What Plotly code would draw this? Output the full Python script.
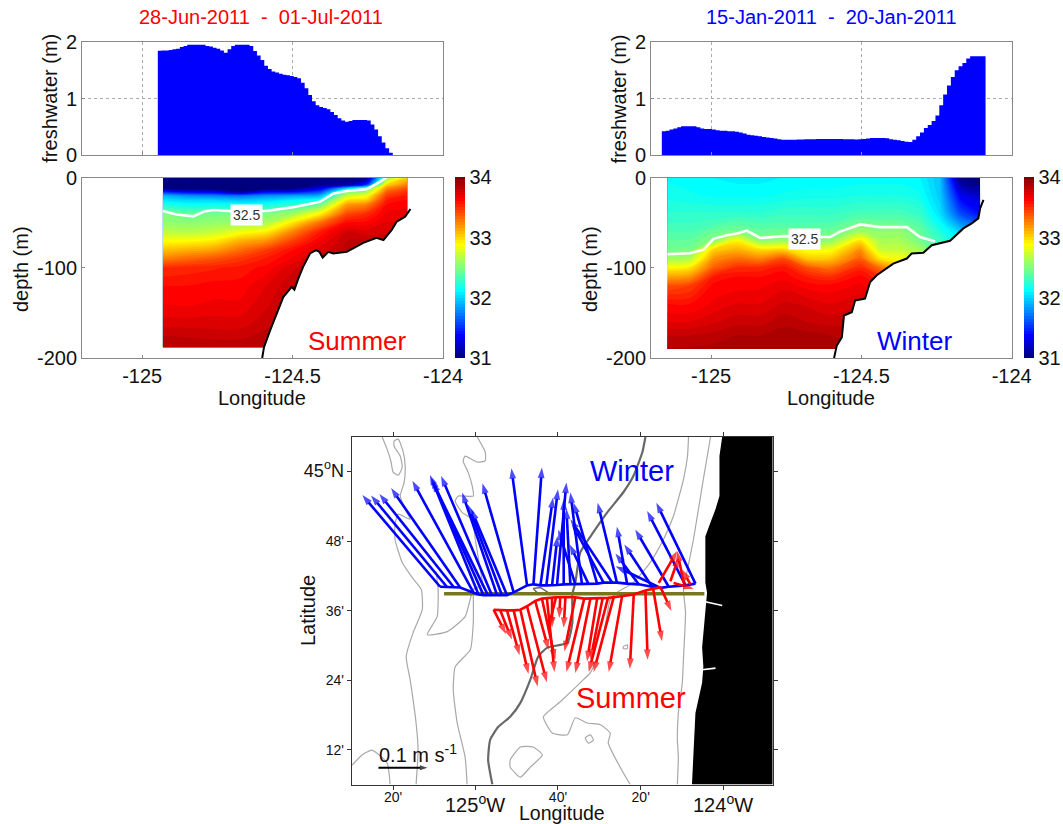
import numpy as np
import plotly.graph_objects as go

# ---------- section data (longitude in deg E, depth in m) ----------
SUMMER_TITLE = "28-Jun-2011  -  01-Jul-2011"
WINTER_TITLE = "15-Jan-2011  -  20-Jan-2011"

SUMMER_FW_RANGE = (-124.948, -124.167)
SUMMER_FW = [1.845,1.85,1.85,1.86,1.87,1.88,1.91,1.93,1.95,1.95,1.95,1.95,1.95,1.93,1.92,1.90,1.88,1.85,1.81,1.87,
             1.93,1.95,1.95,1.95,1.95,1.93,1.84,1.76,1.68,1.58,1.52,1.48,1.46,1.44,1.42,1.41,1.40,1.38,1.36,1.28,
             1.18,1.06,.95,.88,.85,.83,.81,.76,.71,.65,.61,.59,.60,.62,.62,.62,.62,.61,.54,.45,.33,.22,.12,.04,.00]
WINTER_FW_RANGE = (-125.164, -124.087)
WINTER_FW = [.42,.43,.45,.47,.49,.51,.51,.51,.51,.49,.47,.46,.46,.45,.44,.43,.43,.42,.42,.41,.40,.38,.36,.35,.34,.33,
             .32,.31,.30,.29,.28,.27,.27,.27,.27,.275,.275,.28,.28,.28,.285,.285,.285,.285,.285,.285,.285,.28,.28,.28,
             .275,.28,.285,.29,.30,.30,.30,.30,.295,.28,.27,.26,.25,.235,.23,.27,.33,.40,.48,.53,.60,.70,.88,1.07,1.23,
             1.38,1.50,1.57,1.63,1.71,1.75,1.75,1.75,1.75,1.71]

SUMMER_LON = [-124.931,-124.852,-124.764,-124.675,-124.586,-124.497,-124.408,-124.320,-124.254,-124.187,-124.119]
SUMMER_DEPTH = [0,-8,-12,-16,-20,-25,-30,-40,-50,-60,-70,-80,-90,-100,-120,-140,-160,-175,-188]
SUMMER_SALT_BY_LON = [
 [30.9,30.9,31.0,31.5,31.9,32.05,32.2,32.5,32.56,32.68,32.86,33.05,33.25,33.5,33.6,33.65,33.72,33.8,33.85],
 [30.9,30.9,30.95,31.35,31.8,32.0,32.15,32.43,32.54,32.66,32.87,33.1,33.32,33.52,33.6,33.64,33.72,33.79,33.85],
 [30.9,30.9,30.95,31.3,31.75,32.0,32.15,32.47,32.56,32.7,32.92,33.15,33.38,33.54,33.62,33.66,33.72,33.78,33.84],
 [30.9,30.9,30.9,31.05,31.7,31.95,32.15,32.47,32.58,32.82,33.1,33.3,33.47,33.57,33.62,33.66,33.72,33.78,33.84],
 [30.9,30.9,30.95,31.35,31.8,32.0,32.18,32.5,32.62,32.92,33.2,33.45,33.56,33.62,33.7,33.74,33.78,33.82,33.84],
 [30.9,30.9,31.0,31.4,31.85,32.1,32.27,32.6,32.95,33.25,33.45,33.6,33.66,33.74,33.8,33.82,33.84,33.85,33.85],
 [30.95,31.05,31.3,31.6,31.9,32.2,32.45,32.9,33.3,33.55,33.65,33.72,33.8,33.82,33.85,33.85,33.85,33.85,33.85],
 [31.0,31.1,32.0,32.5,32.7,32.95,33.15,33.4,33.6,33.75,33.8,33.82,33.84,33.85,33.85,33.85,33.85,33.85,33.85],
 [31.0,31.5,32.4,32.6,32.85,33.02,33.25,33.5,33.62,33.72,33.8,33.82,33.84,33.85,33.85,33.85,33.85,33.85,33.85],
 [32.5,33.0,33.2,33.35,33.45,33.55,33.6,33.66,33.7,33.74,33.78,33.8,33.82,33.84,33.85,33.85,33.85,33.85,33.85],
 [33.0,33.25,33.4,33.5,33.55,33.6,33.63,33.68,33.7,33.74,33.78,33.8,33.82,33.84,33.85,33.85,33.85,33.85,33.85],
]
WINTER_LON = [-125.145,-125.070,-124.992,-124.915,-124.837,-124.759,-124.682,-124.604,-124.504,-124.438,-124.371,-124.305,-124.238,-124.172,-124.105]
WINTER_DEPTH = [0,-20,-40,-50,-60,-70,-80,-90,-100,-110,-120,-140,-160,-175,-190]
WINTER_SALT_BY_LON = [
 [32.14,32.18,32.26,32.3,32.35,32.41,32.47,32.6,32.9,33.15,33.4,33.6,33.7,33.8,33.86],
 [32.12,32.16,32.26,32.3,32.35,32.41,32.47,32.65,32.95,33.2,33.45,33.6,33.7,33.8,33.86],
 [32.1,32.14,32.26,32.32,32.43,32.53,33.0,33.2,33.35,33.55,33.62,33.66,33.74,33.82,33.87],
 [32.08,32.14,32.26,32.37,32.47,32.9,33.1,33.3,33.5,33.6,33.63,33.7,33.78,33.85,33.88],
 [32.08,32.14,32.26,32.34,32.43,32.55,32.98,33.25,33.52,33.6,33.64,33.7,33.78,33.85,33.89],
 [32.1,32.16,32.29,32.35,32.44,32.58,33.0,33.4,33.58,33.63,33.68,33.76,33.83,33.88,33.9],
 [32.1,32.18,32.29,32.35,32.44,32.55,32.85,33.05,33.4,33.55,33.63,33.74,33.8,33.87,33.9],
 [32.1,32.18,32.29,32.35,32.44,32.55,32.85,33.05,33.3,33.5,33.62,33.7,33.78,33.85,33.88],
 [32.12,32.2,32.33,32.45,32.6,32.95,33.2,33.35,33.52,33.62,33.66,33.74,33.78,33.83,33.85],
 [32.12,32.2,32.33,32.43,32.55,32.62,32.72,32.95,33.3,33.5,33.6,33.66,33.7,33.74,33.74],
 [32.12,32.2,32.33,32.42,32.55,32.62,32.7,32.85,33.1,33.3,33.5,33.6,33.66,33.74,33.74],
 [32.1,32.16,32.28,32.35,32.43,32.47,32.6,32.75,33.0,33.2,33.4,33.5,33.6,33.7,33.7],
 [31.95,31.97,32.04,32.12,32.22,32.3,32.35,32.4,32.4,32.4,32.4,32.4,32.4,32.4,32.4],
 [31.0,31.35,31.6,31.8,32.0,32.1,32.2,32.2,32.2,32.2,32.2,32.2,32.2,32.2,32.2],
 [30.9,31.2,31.4,31.6,31.8,32.0,32.0,32.0,32.0,32.0,32.0,32.0,32.0,32.0,32.0],
]

SUMMER_BOTTOM_LON = [-124.601,-124.595,-124.575,-124.548,-124.531,-124.503,-124.494,-124.481,-124.465,-124.442,-124.422,-124.411,-124.400,-124.381,-124.365,-124.320,-124.298,-124.265,-124.221,-124.198,-124.171,-124.154,-124.126,-124.108]
SUMMER_BOTTOM_DEPTH = [-200,-188,-169.6,-147.3,-132.5,-121.3,-124.3,-112,-99,-84.2,-80.5,-82.4,-88.7,-82.4,-84.2,-82.4,-78.7,-72.4,-66.8,-69.4,-58.3,-49,-43.4,-34.9]
WINTER_BOTTOM_LON = [-124.591,-124.582,-124.565,-124.558,-124.532,-124.521,-124.488,-124.471,-124.449,-124.394,-124.349,-124.333,-124.294,-124.266,-124.205,-124.161,-124.133,-124.111,-124.105,-124.094]
WINTER_BOTTOM_DEPTH = [-200,-186.3,-177,-152.9,-149.2,-136.2,-134.3,-115.8,-108.3,-95.4,-89.8,-84.2,-83.5,-75,-70.1,-56.4,-50.8,-45.3,-34.1,-24.9]

SUMMER_325_LON = [-124.931,-124.886,-124.830,-124.797,-124.764,-124.675,-124.586,-124.498,-124.409,-124.365,-124.320,-124.254,-124.221,-124.187]
SUMMER_325_DEPTH = [-37,-41,-43,-38,-36,-38,-37,-33,-27,-18,-15,-13,-7,0]
WINTER_325_LON = [-125.145,-125.070,-125.025,-124.992,-124.948,-124.915,-124.881,-124.837,-124.759,-124.682,-124.604,-124.571,-124.504,-124.438,-124.349,-124.305,-124.255]
WINTER_325_DEPTH = [-85,-84,-80,-68,-64,-62,-59,-67,-65,-66,-66,-60,-52,-55,-55,-66,-71]

# ---------- map data (lon, lat in degrees) ----------
LAND_LON = [-124.004,-124.015,-124.015,-124.031,-124.051,-124.072,-124.072,-124.065,-124.072,-124.085,-124.080,-124.085,-124.112,-124.126,-123.8,-123.8]
LAND_LAT = [45.1,45.045,44.93,44.892,44.855,44.814,44.681,44.652,44.598,44.494,44.439,44.393,44.306,44.1,44.1,45.1]
INLET1_LON = [-124.072,-124.004]; INLET1_LAT = [44.626,44.615]
INLET2_LON = [-124.085,-124.031]; INLET2_LAT = [44.43,44.435]

ISO_A_LON = [-125.377,-125.357,-125.341,-125.333,-125.312,-125.296,-125.304,-125.329,-125.329,-125.312,-125.292,-125.284,-125.288,-125.304,-125.284,-125.264,-125.312,-125.325,-125.325,-125.296,-125.256,-125.219,-125.215,-125.252,-125.280,-125.264,-125.240,-125.232,-125.240]
ISO_A_LAT = [45.1,45.065,45.028,44.999,44.990,45.013,45.045,45.074,45.088,45.094,45.057,45.016,44.970,44.930,44.892,44.863,44.878,44.849,44.805,44.739,44.696,44.661,44.603,44.537,44.468,44.401,44.277,44.199,44.1]
ISO_B_LON = [-124.993,-124.961,-124.961,-124.993,-125.042,-125.050,-125.030,-125.013,-125.009,-125.070,-125.082,-125.054,-125.013,-125.001,-124.981,-124.973,-125.009,-125.042,-125.114,-125.195,-125.155,-125.151,-125.159]
ISO_B_LAT = [45.1,45.057,45.031,45.028,45.045,45.031,44.999,44.958,44.930,44.930,44.915,44.883,44.863,44.805,44.719,44.675,44.661,44.583,44.540,44.531,44.583,44.661,44.713]
ISO_C_LON = [-125.009,-125.009,-125.021,-125.082,-125.090,-125.074,-125.042,-125.034]
ISO_C_LAT = [44.644,44.566,44.488,44.439,44.373,44.277,44.179,44.1]
ISO_D_LON = [-124.140,-124.144,-124.160,-124.201,-124.241,-124.294,-124.363,-124.427,-124.456,-124.472,-124.496,-124.536,-124.565,-124.658,-124.726,-124.690,-124.629,-124.597,-124.549,-124.496,-124.456,-124.464,-124.403,-124.375]
ISO_D_LAT = [45.1,45.045,44.979,44.872,44.805,44.739,44.681,44.653,44.632,44.575,44.488,44.422,44.401,44.338,44.295,44.248,44.243,44.292,44.277,44.272,44.248,44.220,44.133,44.1]
ISO_E_LON = [-124.051,-124.080,-124.120,-124.144,-124.160,-124.152,-124.160,-124.165,-124.181,-124.185,-124.181,-124.185]
ISO_E_LAT = [45.1,44.979,44.805,44.719,44.661,44.595,44.468,44.393,44.306,44.228,44.179,44.1]
ISO_F_LON = [-124.860,-124.819,-124.767,-124.730,-124.779,-124.819,-124.860,-124.860]
ISO_F_LAT = [44.170,44.208,44.208,44.185,44.150,44.121,44.150,44.170]
ISO_G_LON = [-124.557,-124.536,-124.524,-124.544,-124.557]
ISO_G_LAT = [44.234,44.243,44.228,44.219,44.234]
ISO_H_LON = [-124.403,-124.387,-124.387,-124.403,-124.403]
ISO_H_LAT = [44.497,44.502,44.491,44.491,44.497]
ISO_I_LON = [-125.498,-125.458,-125.418,-125.357,-125.345]
ISO_I_LAT = [44.156,44.185,44.199,44.162,44.1]
SHELF_LON = [-124.314,-124.326,-124.363,-124.403,-124.468,-124.524,-124.577,-124.597,-124.609,-124.609,-124.629,-124.710,-124.747,-124.779,-124.819,-124.860,-124.908,-124.941,-124.949,-124.932]
SHELF_LAT = [45.1,45.057,44.987,44.941,44.883,44.826,44.768,44.681,44.647,44.566,44.508,44.494,44.468,44.401,44.335,44.295,44.266,44.228,44.170,44.1]
LOOP_LON = [-124.751,-124.767,-124.738,-124.706]
LOOP_LAT = [44.652,44.664,44.667,44.652]

SECTION_LON = [-125.127,-124.076]
SECTION_LAT = [44.649,44.649]

WINTER_BASE_LON = [-125.143,-125.116,-125.089,-125.062,-125.008,-124.988,-124.968,-124.950,-124.934,-124.913,-124.893,-124.873,-124.846,-124.792,-124.766,
                   -124.738,-124.714,-124.691,-124.671,-124.644,-124.617,-124.597,-124.570,-124.543,-124.509,-124.483,-124.449,-124.429,-124.388,-124.341,-124.287,-124.253,-124.220,-124.152,-124.112]
WINTER_BASE_LAT = [44.669,44.669,44.669,44.667,44.652,44.647,44.645,44.645,44.645,44.645,44.644,44.645,44.653,44.673,44.676,
                   44.673,44.673,44.673,44.674,44.676,44.676,44.676,44.676,44.676,44.678,44.681,44.682,44.681,44.678,44.676,44.669,44.666,44.669,44.673,44.678]
WINTER_TIP_LON = [-125.457,-125.422,-125.388,-125.341,-125.255,-125.184,-125.179,-125.174,-125.139,-125.054,-125.031,-125.017,-124.972,-124.855,-124.732,
                  -124.687,-124.667,-124.669,-124.633,-124.644,-124.633,-124.666,-124.617,-124.620,-124.604,-124.609,-124.617,-124.507,-124.429,-124.435,-124.399,-124.435,-124.355,-124.307,-124.270]
WINTER_TIP_LAT = [44.933,44.932,44.936,44.953,44.974,44.991,44.982,44.972,44.988,44.940,44.906,44.892,44.967,45.010,45.012,
                  44.926,44.950,44.815,44.969,44.921,44.894,44.834,44.940,44.791,44.911,44.849,44.863,44.911,44.842,44.765,44.791,44.728,44.834,44.887,44.911]

SUMMER_BASE_LON = [-124.927,-124.900,-124.873,-124.846,-124.819,-124.792,-124.759,-124.732,-124.712,-124.691,-124.675,-124.658,-124.637,-124.597,-124.561,-124.536,-124.509,-124.487,-124.465,-124.442,-124.408,-124.361,-124.314,-124.283,-124.253,-124.260,-124.213,-124.159,-124.132,-124.200]
SUMMER_BASE_LAT = [44.603,44.601,44.601,44.601,44.603,44.613,44.628,44.635,44.637,44.639,44.639,44.639,44.639,44.639,44.635,44.635,44.635,44.635,44.637,44.639,44.643,44.647,44.658,44.664,44.668,44.680,44.685,44.680,44.676,44.680]
SUMMER_TIP_LON = [-124.877,-124.853,-124.822,-124.786,-124.749,-124.712,-124.705,-124.678,-124.681,-124.691,-124.705,-124.662,-124.644,-124.641,-124.633,-124.597,-124.550,-124.536,-124.543,-124.523,-124.462,-124.377,-124.305,-124.247,-124.209,-124.186,-124.179,-124.186,-124.166,-124.119]
SUMMER_TIP_LAT = [44.533,44.517,44.472,44.418,44.382,44.394,44.488,44.459,44.424,44.552,44.552,44.579,44.551,44.483,44.424,44.421,44.454,44.459,44.424,44.424,44.424,44.433,44.459,44.512,44.599,44.772,44.755,44.772,44.719,44.663]

SCALE_LON = [-125.392,-125.194]
SCALE_LAT = [44.148,44.148]

JET = [[0,"#00007f"],[.125,"#0000ff"],[.375,"#00ffff"],[.5,"#7fff7f"],[.625,"#ffff00"],[.875,"#ff0000"],[1,"#7f0000"]]

FONT = "Liberation Sans"
RED, BLUE = "#ff0000", "#0000ff"
W, H = 1063, 824

def dom_x(a, b): return [a / W, b / W]
def dom_y(top, bot): return [1 - bot / H, 1 - top / H]

fig = go.Figure()

def panel(fw_range, fw, lon, depth, salt, blon, bdep, clon, cdep, fwx, fwy, dx, dy, cbx):
    xs = np.linspace(fw_range[0], fw_range[1], len(fw))
    fig.add_trace(go.Scatter(x=xs, y=fw, xaxis=fwx, yaxis=fwy, mode="lines", line=dict(shape="hv", width=0, color=BLUE),
                             fill="tozeroy", fillcolor=BLUE, showlegend=False))
    z = np.array(salt).T
    fig.add_trace(go.Contour(x=lon, y=depth, z=z, xaxis=dx, yaxis=dy, zmin=31, zmax=34, colorscale=JET,
                             autocontour=False, contours=dict(start=31, end=34, size=0.05, coloring="fill", showlines=False),
                             line=dict(width=0),
                             colorbar=dict(x=cbx / W, xanchor="left", xpad=0, ypad=0, y=1 - 267.75 / H, yanchor="middle",
                                           len=180.5 / H, thickness=9.5, outlinewidth=0,
                                           tickvals=[31, 32, 33, 34], ticktext=["31", "32", "33", "34"], ticks="",
                                           tickfont=dict(size=20, family=FONT, color="#111"))))
    fig.add_trace(go.Scatter(x=list(blon) + [blon[-1]], y=list(bdep) + [-200], xaxis=dx, yaxis=dy, mode="lines",
                             line=dict(width=0), fill="toself", fillcolor="white", showlegend=False))
    fig.add_trace(go.Scatter(x=clon, y=cdep, xaxis=dx, yaxis=dy, mode="lines", line=dict(color="white", width=2.6), showlegend=False))
    fig.add_trace(go.Scatter(x=blon, y=bdep, xaxis=dx, yaxis=dy, mode="lines", line=dict(color="black", width=2), showlegend=False))

panel(SUMMER_FW_RANGE, SUMMER_FW, SUMMER_LON, SUMMER_DEPTH, SUMMER_SALT_BY_LON, SUMMER_BOTTOM_LON, SUMMER_BOTTOM_DEPTH,
      SUMMER_325_LON, SUMMER_325_DEPTH, "x", "y", "x2", "y2", 455)
panel(WINTER_FW_RANGE, WINTER_FW, WINTER_LON, WINTER_DEPTH, WINTER_SALT_BY_LON, WINTER_BOTTOM_LON, WINTER_BOTTOM_DEPTH,
      WINTER_325_LON, WINTER_325_DEPTH, "x3", "y3", "x4", "y4", 1024)

# map layers
for lo, la in [(ISO_A_LON, ISO_A_LAT), (ISO_B_LON, ISO_B_LAT), (ISO_C_LON, ISO_C_LAT), (ISO_D_LON, ISO_D_LAT), (ISO_E_LON, ISO_E_LAT),
               (ISO_F_LON, ISO_F_LAT), (ISO_G_LON, ISO_G_LAT), (ISO_H_LON, ISO_H_LAT), (ISO_I_LON, ISO_I_LAT)]:
    fig.add_trace(go.Scatter(x=lo, y=la, xaxis="x5", yaxis="y5", mode="lines", line=dict(color="#a8a8a8", width=1.2, shape="spline", smoothing=0.5), showlegend=False))
fig.add_trace(go.Scatter(x=SHELF_LON, y=SHELF_LAT, xaxis="x5", yaxis="y5", mode="lines", line=dict(color="#686868", width=2.2, shape="spline", smoothing=0.5), showlegend=False))
fig.add_trace(go.Scatter(x=LOOP_LON, y=LOOP_LAT, xaxis="x5", yaxis="y5", mode="lines", line=dict(color="#686868", width=1.5), showlegend=False))
fig.add_trace(go.Scatter(x=LAND_LON, y=LAND_LAT, xaxis="x5", yaxis="y5", mode="lines", line=dict(width=0, color="black"), fill="toself", fillcolor="black", showlegend=False))
for lo, la in [(INLET1_LON, INLET1_LAT), (INLET2_LON, INLET2_LAT)]:
    fig.add_trace(go.Scatter(x=lo, y=la, xaxis="x5", yaxis="y5", mode="lines", line=dict(color="white", width=1.6), showlegend=False))

def arrows(blon, blat, tlon, tlat, color, lw=2.6, head=11):
    xs, ys, sizes = [], [], []
    for a, b, c, d in zip(blon, blat, tlon, tlat):
        xs += [a, c, None]; ys += [b, d, None]; sizes += [0, head, 0]
    fig.add_trace(go.Scatter(x=xs, y=ys, xaxis="x5", yaxis="y5", mode="lines+markers", line=dict(color=color, width=lw),
                             marker=dict(symbol="arrow", angleref="previous", size=sizes, color=color, line=dict(width=0)),
                             showlegend=False))

def base_curve(blon, blat, color):
    order = np.argsort(blon)
    fig.add_trace(go.Scatter(x=np.array(blon)[order], y=np.array(blat)[order], xaxis="x5", yaxis="y5", mode="lines",
                             line=dict(color=color, width=2.6), showlegend=False))

fig.add_trace(go.Scatter(x=SECTION_LON, y=SECTION_LAT, xaxis="x5", yaxis="y5", mode="lines", line=dict(color="#76761e", width=3.5), showlegend=False))
base_curve(WINTER_BASE_LON, WINTER_BASE_LAT, BLUE)
arrows(WINTER_BASE_LON, WINTER_BASE_LAT, WINTER_TIP_LON, WINTER_TIP_LAT, BLUE)
base_curve(SUMMER_BASE_LON[:25], SUMMER_BASE_LAT[:25], RED)
arrows(SUMMER_BASE_LON, SUMMER_BASE_LAT, SUMMER_TIP_LON, SUMMER_TIP_LAT, RED)
arrows(SCALE_LON[:1], SCALE_LAT[:1], SCALE_LON[1:], SCALE_LAT[1:], "black", lw=2, head=8)

fnt = dict(size=20, family=FONT, color="#111")

def sec_axes(xname, yname, xdom, ydom, yrange, ticks_y, show_x, anchor_x, anchor_y, grid):
    fig.layout[xname] = dict(domain=xdom, range=[-125.2, -124], anchor=anchor_y, tickvals=[-125, -124.5, -124],
                             ticktext=["-125", "-124.5", "-124"], showticklabels=show_x, ticks="inside", ticklen=3, tickcolor="#888",
                             showline=True, mirror=True, linecolor="#888", linewidth=1, zeroline=False, tickfont=fnt,
                             showgrid=grid, gridcolor="#aaa", griddash="dot", gridwidth=1, automargin=False)
    fig.layout[yname] = dict(domain=ydom, range=yrange, anchor=anchor_x, tickvals=ticks_y, ticktext=[str(v) for v in ticks_y],
                             ticks="inside", ticklen=3, tickcolor="#888",
                             showline=True, mirror=True, linecolor="#888", linewidth=1, zeroline=False, tickfont=fnt,
                             showgrid=grid, gridcolor="#aaa", griddash="dot", gridwidth=1, automargin=False)

sec_axes("xaxis", "yaxis", dom_x(82, 443), dom_y(42, 155), [0, 2], [0, 1, 2], False, "x", "y", True)
sec_axes("xaxis2", "yaxis2", dom_x(82, 443), dom_y(177.5, 358), [-200, 0], [-200, -100, 0], True, "x2", "y2", False)
sec_axes("xaxis3", "yaxis3", dom_x(651, 1011.7), dom_y(42, 155), [0, 2], [0, 1, 2], False, "x3", "y3", True)
sec_axes("xaxis4", "yaxis4", dom_x(651, 1011.7), dom_y(177.5, 358), [-200, 0], [-200, -100, 0], True, "x4", "y4", False)

fig.layout["xaxis5"] = dict(domain=dom_x(351.7, 772.7), range=[-125.5, -123.8], anchor="y5",
                            tickvals=[-125.333, -125, -124.667, -124.333, -124],
                            ticktext=["20'", " ", "40'", "20'", " "], ticklabelstandoff=-4,
                            ticks="outside", ticklen=4, tickcolor="#333", showline=True, mirror="allticks", linecolor="#333", linewidth=1,
                            showgrid=False, zeroline=False, tickfont=dict(size=14, family=FONT, color="#111"), automargin=False)
fig.layout["yaxis5"] = dict(domain=dom_y(437, 784.5), range=[44.1, 45.1], anchor="x5",
                            tickvals=[45, 44.8, 44.6, 44.4, 44.2],
                            ticktext=['<span style="font-size:18px">45<sup>o</sup>N</span>', "48'", "36'", "24'", "12'"],
                            ticks="outside", ticklen=4, tickcolor="#333", showline=True, mirror="allticks", linecolor="#333", linewidth=1,
                            showgrid=False, zeroline=False, tickfont=dict(size=14, family=FONT, color="#111"), automargin=False)

def px_label(text, x, y, angle=0, size=20, color="#111"):
    return dict(text=text, xref="paper", yref="paper", x=x / W, y=1 - y / H, xanchor="center", yanchor="middle",
                showarrow=False, textangle=angle, font=dict(size=size, color=color, family=FONT))

ann = [
    px_label(SUMMER_TITLE, 261, 17, color=RED),
    px_label(WINTER_TITLE, 831, 17, color=BLUE),
    px_label("freshwater (m)", 50, 98.7, -90),
    px_label("freshwater (m)", 618.7, 98.7, -90),
    px_label("depth (m)", 21, 269, -90),
    px_label("depth (m)", 590, 269, -90),
    px_label("Longitude", 262, 398),
    px_label("Longitude", 831, 398),
    px_label("Latitude", 308, 611, -90),
    px_label("Longitude", 562, 813, size=19.5),
    px_label("125<sup>o</sup>W", 475.3, 803),
    px_label("124<sup>o</sup>W", 722.7, 803),
    dict(text="Summer", xref="x2", yref="y2", x=-124.285, y=-180.7, showarrow=False, font=dict(size=26, color=RED, family=FONT)),
    dict(text="Winter", xref="x4", yref="y4", x=-124.324, y=-180.7, showarrow=False, font=dict(size=26, color=BLUE, family=FONT)),
    dict(text="32.5", xref="x2", yref="y2", x=-124.653, y=-41.6, showarrow=False, bgcolor="white", borderpad=2, font=dict(size=14, color="#333", family=FONT)),
    dict(text="32.5", xref="x4", yref="y4", x=-124.69, y=-68.6, showarrow=False, bgcolor="white", borderpad=2, font=dict(size=14, color="#333", family=FONT)),
    dict(text="Winter", xref="x5", yref="y5", x=-124.368, y=45.003, showarrow=False, font=dict(size=29, color=BLUE, family=FONT)),
    dict(text="Summer", xref="x5", yref="y5", x=-124.372, y=44.349, showarrow=False, font=dict(size=29, color=RED, family=FONT)),
    dict(text="0.1 m s<sup>-1</sup>", xref="x5", yref="y5", x=-125.396, y=44.19, xanchor="left", showarrow=False, font=dict(size=20, color="#111", family=FONT)),
]
fig.update_layout(width=W, height=H, margin=dict(l=0, r=0, t=0, b=0, autoexpand=False), paper_bgcolor="white", plot_bgcolor="white",
                  showlegend=False, annotations=ann, font=dict(family=FONT))
# the figure fills the 1063x824 window exactly, so the page's default body margin is removed
fig.write_html("out.html", config={"displayModeBar": False}, post_script="document.body.style.margin='0';")
